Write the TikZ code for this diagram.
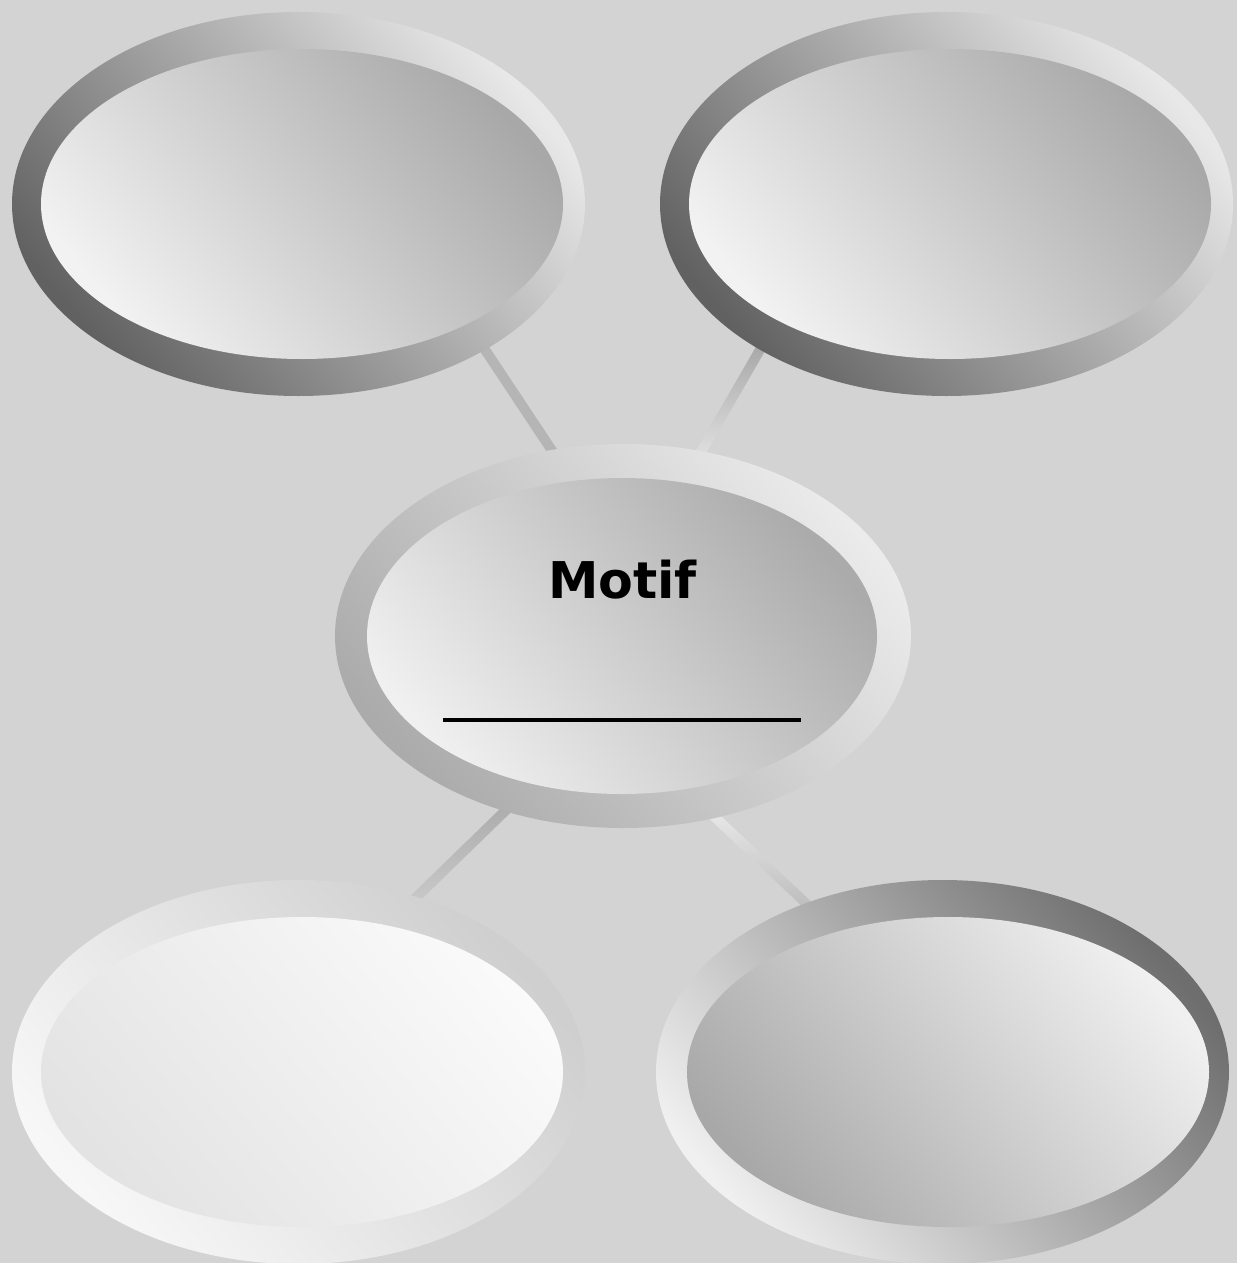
\documentclass[tikz,border=0pt]{standalone}
\usepackage{fontspec}
\newfontfamily\motiffont{DejaVu Sans}
\usetikzlibrary{shapes.geometric,fadings}
\pgfdeclarelayer{background}
\pgfsetlayers{background,main}
\definecolor{bg}{HTML}{D3D3D3}
\tikzset{
  ell/.style={ellipse, inner sep=0pt, outer sep=0pt},
  ringbig/.style={ell, minimum width=429.75pt, minimum height=288pt},
  capbig/.style={ell, minimum width=391.5pt, minimum height=232.5pt},
  ringmid/.style={ell, minimum width=432pt, minimum height=288pt},
  capmid/.style={ell, minimum width=382.5pt, minimum height=237pt},
  diag/.style={shading angle=130},
  link/.style={line width=7.5pt, shorten <=-10pt, shorten >=-10pt}
}
\begin{document}
\begin{tikzpicture}[x=0.75pt,y=-0.75pt]
\useasboundingbox (0,0) rectangle (1237,1263);
% ellipses
\node[ringbig, left color=black!62, right color=black!9, diag] (tlo) at (298.5,204) {};
\node[capbig, left color=black!5, right color=black!34, diag] (tli) at (302,204) {};
\node[ringbig, left color=black!62, right color=black!9, diag] (tro) at (946.5,204) {};
\node[capbig, left color=black!5, right color=black!34, diag] (tri) at (950,204) {};
\node[ringmid, left color=black!33, right color=black!8, diag] (co) at (623,636) {};
\node[capmid, left color=black!6, right color=black!33, diag] (ci) at (622,636) {};
\node[ringbig, left color=black!3, right color=black!19, diag] (blo) at (298.5,1072) {};
\node[capbig, left color=black!11, right color=black!2, diag] (bli) at (302,1072) {};
\node[ringbig, left color=black!6, right color=black!57, diag] (bro) at (942.5,1072) {};
\node[capbig, left color=black!34, right color=black!6, diag] (bri) at (948,1072) {};
% text
\node[anchor=base, inner sep=0pt, font=\motiffont\bfseries\fontsize{38pt}{44pt}\selectfont] (motif) at (622.5,598) {Motif};
\coordinate (ul1) at (443,720);
\coordinate (ul2) at (801,720);
\draw[line width=3pt] (ul1) -- (ul2);
% background and connectors
\begin{pgfonlayer}{background}
\fill[bg] (0,0) rectangle (1237,1263);
\draw[link, black!29] (tlo.-38) -- (co.111);
\draw[link, black!12] (tro.-142) -- (co.67.5);
\draw[link, black!34, path fading=south] (tro.-142) -- (co.67.5);
\draw[link, black!21] (co.-124) -- (blo.56);
\draw[link, black!32, path fading=south] (co.-124) -- (blo.56);
\draw[link, black!9] (co.-63.6) -- (bro.129.5);
\draw[link, black!26, path fading=north] (co.-63.6) -- (bro.129.5);
\end{pgfonlayer}
\end{tikzpicture}
\end{document}
